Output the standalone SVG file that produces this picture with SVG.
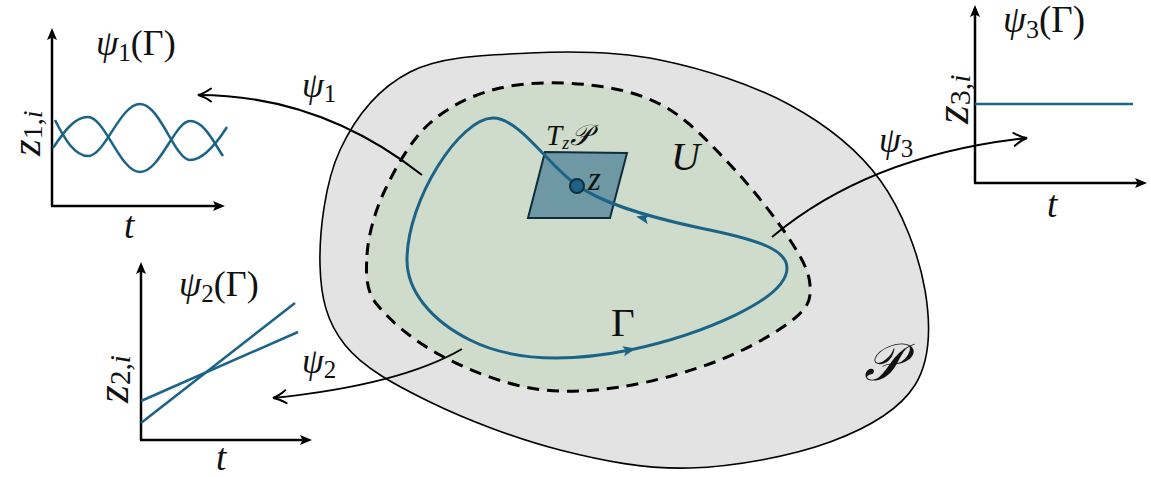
<svg xmlns="http://www.w3.org/2000/svg" width="1151" height="477" viewBox="0 0 1151 477">
<style>
text{font-family:"Liberation Serif","DejaVu Serif",serif;fill:#111;}
.it{font-style:italic;}
.rm{font-style:normal;}
.axis{stroke:#000;stroke-width:2.5;fill:none;}
.data{stroke:#1c6487;stroke-width:2.5;fill:none;}
.conn{stroke:#000;stroke-width:2;fill:none;}
</style>
<defs>
<marker id="ax" markerWidth="14" markerHeight="12" refX="8" refY="6" orient="auto" markerUnits="userSpaceOnUse" overflow="visible">
<path d="M0,1 L12,6 L0,11 L2.5,6 Z" fill="#000"/>
</marker>
<marker id="open" markerWidth="16" markerHeight="16" refX="14" refY="8" orient="auto" markerUnits="userSpaceOnUse" overflow="visible">
<path d="M1,1.5 Q8,6.5 14,8 Q8,9.5 1,14.5" fill="none" stroke="#000" stroke-width="2" stroke-linecap="round"/>
</marker>
<path id="cuarrow" d="M7,0 L-6,-5 L-3,0 L-6,5 Z" fill="#1c6487"/>
</defs>

<g id="manifold-P">
<path d="M320,265 C319.2,232.5 325,182.2 340,150 C355,117.8 378.3,88.2 410,72 C441.7,55.8 488.3,55 530,53 C571.7,51 616.7,51.3 660,60 C703.3,68.7 753.3,85 790,105 C826.7,125 857.5,149.2 880,180 C902.5,210.8 919.2,255.8 925,290 C930.8,324.2 930.8,359.7 915,385 C899.2,410.3 867.5,428.2 830,442 C792.5,455.8 735,466.7 690,468 C645,469.3 603.3,461 560,450 C516.7,439 465.8,419.5 430,402 C394.2,384.5 363.3,367.8 345,345 C326.7,322.2 320.8,297.5 320,265 Z" fill="#e3e3e3" stroke="#000" stroke-width="1.6"/>
<text class="it" x="864" y="380" font-size="52">𝒫</text>
</g>

<g id="region-U">
<path d="M367,255 C368.2,235.8 374.5,212 385,190 C395.5,168 410.8,140 430,123 C449.2,106 473.3,94.3 500,88 C526.7,81.7 562.2,81.7 590,85 C617.8,88.3 642.8,93.8 667,108 C691.2,122.2 714.5,148 735,170 C755.5,192 777.5,220.8 790,240 C802.5,259.2 809.2,272 810,285 C810.8,298 810,305.5 795,318 C780,330.5 749.2,348.5 720,360 C690.8,371.5 651.7,382.3 620,387 C588.3,391.7 560,393.3 530,388 C500,382.7 465.3,368.8 440,355 C414.7,341.2 390.2,321.7 375,302 C366,289 365.8,274.2 367,255 Z" fill="#cfdbcb" stroke="#000" stroke-width="3" stroke-dasharray="12,8"/>
<text class="it" x="671" y="170" font-size="40">U</text>
</g>

<g id="tangent-plane">
<polygon points="545,152 627,153 610,218 528,218" fill="#6e98a3" stroke="#0f2e3d" stroke-width="2"/>
<text x="546" y="145" font-size="29"><tspan class="it">T</tspan><tspan class="it" font-size="18" dy="4">z</tspan><tspan class="it" dy="-4" dx="1">𝒫</tspan></text>
</g>

<g id="curve-gamma">
<path d="M493,118 C520,118 550,168 577,185 C600,202 640,215 700,228 C760,240 787,250 787,268 C787,300 700,335 630,350 C580,360 520,365 470,340 C430,320 407,290 407,260 C407,200 460,118 493,118 Z" fill="none" stroke="#1c6487" stroke-width="3"/>
<use href="#cuarrow" transform="translate(643,218) rotate(192)"/>
<use href="#cuarrow" transform="translate(629,350) rotate(-12)"/>
<text class="rm" x="611" y="336" font-size="41">Γ</text>
</g>

<g id="point-z">
<circle cx="577" cy="186" r="7" fill="#1c6487" stroke="#0f2e3d" stroke-width="2"/>
<text class="it" x="588" y="190" font-size="33">z</text>
</g>

<g id="plot1">
<line class="axis" x1="52" y1="206" x2="52" y2="32" marker-end="url(#ax)"/>
<line class="axis" x1="51" y1="206" x2="221" y2="206" marker-end="url(#ax)"/>
<path class="data" d="M53,148 C65,130 75,117 88,117 C105,117 120,172 140,172 C160,172 175,121 190,121 C205,121 215,145 223,156"/>
<path class="data" d="M55,120 C65,140 75,156 88,156 C105,156 120,104 140,104 C160,104 175,160 190,160 C205,160 220,138 227,127"/>
<text x="96" y="55" font-size="36"><tspan class="it">ψ</tspan><tspan font-size="25" dy="6">1</tspan><tspan dy="-6">(Γ)</tspan></text>
<text transform="translate(40,156) rotate(-90)" font-size="43"><tspan class="it">z</tspan><tspan font-size="28" dy="2">1,</tspan><tspan class="it" font-size="28">i</tspan></text>
<text class="it" x="124" y="238" font-size="37">t</text>
</g>

<g id="plot2">
<line class="axis" x1="141" y1="440" x2="141" y2="266" marker-end="url(#ax)"/>
<line class="axis" x1="140" y1="440" x2="308" y2="440" marker-end="url(#ax)"/>
<path class="data" d="M141,423 L295,303"/>
<path class="data" d="M141,401 L298,332"/>
<text x="179" y="296" font-size="36"><tspan class="it">ψ</tspan><tspan font-size="25" dy="6">2</tspan><tspan dy="-6">(Γ)</tspan></text>
<text transform="translate(128,403) rotate(-90)" font-size="46"><tspan class="it">z</tspan><tspan font-size="29" dy="2">2,</tspan><tspan class="it" font-size="29">i</tspan></text>
<text class="it" x="216" y="470" font-size="37">t</text>
</g>

<g id="plot3">
<line class="axis" x1="975" y1="183" x2="975" y2="9" marker-end="url(#ax)"/>
<line class="axis" x1="974" y1="183" x2="1143" y2="183" marker-end="url(#ax)"/>
<path class="data" d="M975,104 L1133,104"/>
<text x="1003" y="32" font-size="37"><tspan class="it">ψ</tspan><tspan font-size="26" dy="6">3</tspan><tspan dy="-6">(Γ)</tspan></text>
<text transform="translate(968,124) rotate(-90)" font-size="48"><tspan class="it">z</tspan><tspan font-size="30" dy="2">3,</tspan><tspan class="it" font-size="30">i</tspan></text>
<text class="it" x="1047" y="217" font-size="37">t</text>
</g>

<g id="connectors">
<path class="conn" d="M422,175 Q320,95 198,95" marker-end="url(#open)"/>
<path class="conn" d="M772,237 Q870,155 1027,138" marker-end="url(#open)"/>
<path class="conn" d="M462,349 Q400,385 273,398" marker-end="url(#open)"/>
<text x="302" y="97" font-size="35"><tspan class="it">ψ</tspan><tspan font-size="25" dy="5">1</tspan></text>
<text x="879" y="152" font-size="35"><tspan class="it">ψ</tspan><tspan font-size="25" dy="5">3</tspan></text>
<text x="302" y="373" font-size="35"><tspan class="it">ψ</tspan><tspan font-size="25" dy="5">2</tspan></text>
</g>
</svg>
